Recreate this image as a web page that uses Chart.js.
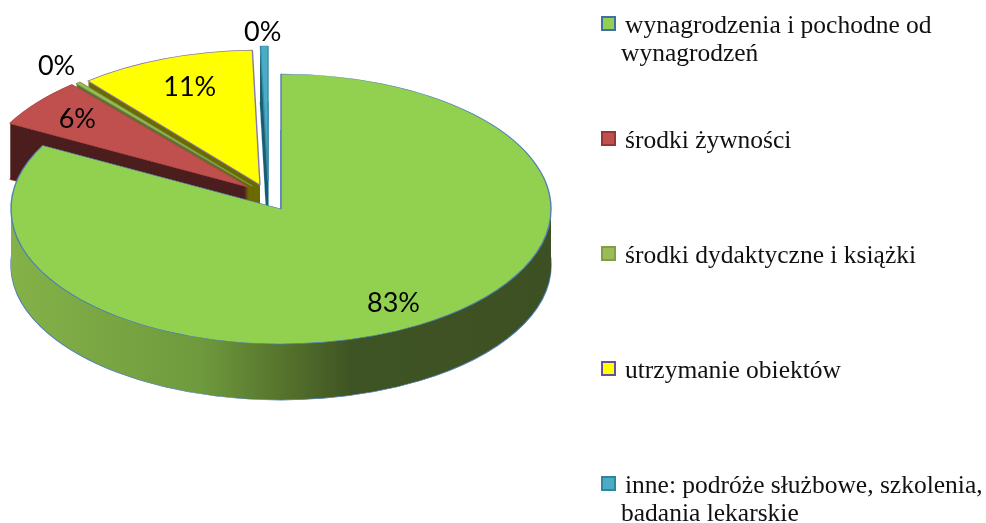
<!DOCTYPE html>
<html lang="pl">
<head>
<meta charset="utf-8">
<title>Struktura wydatków</title>
<script src="https://cdn.jsdelivr.net/npm/chart.js@4"></script>
<style>html,body{margin:0;padding:0;background:#fff}canvas{display:block}</style>
</head>
<body>
<canvas id="c" width="986" height="523"></canvas>
<script>
const categories = ['wynagrodzenia i pochodne od wynagrodzeń','środki żywności','środki dydaktyczne i książki','utrzymanie obiektów','inne: podróże służbowe, szkolenia, badania lekarskie'];
const legendLines = [['wynagrodzenia i pochodne od','wynagrodzeń'],['środki żywności'],['środki dydaktyczne i książki'],['utrzymanie obiektów'],['inne: podróże służbowe, szkolenia,','badania lekarskie']];
const values = [82.8,5.9,0.3,10.55,0.45];
const fillColors = ['#92D050','#C0504D','#9BBB59','#FFFF00','#4BACC6'];
const edgeColors = ['#4F7FB5','#B04A47','#7F9F4A','#8A78B0','#3A8CA6'];
const sideColors = [null,'#4C1E1E','#5C7035','#6B6B00','#1F5F72'];
const markerEdges = ['#3F6EA8','#943634','#7F9F4A','#6B4F96','#31859C'];
const explodeX = [0,-33,-29,-21,-13];
const explodeY = [0,-22,-23,-24,-28];
const labelRadius = [0.81,0.81,1.14,0.76,1.11];
const labelNudgeX = [0,0,3,2,-1];
const labelNudgeY = [0,0,-3,-3,0];
const drawOrder = [4,3,2,1,0];
const squash = 0.5, depth = 56, pieRadius = 270;
const pctFont = '400 27px Lato', legendFont = '25.5px "Liberation Serif"';

function styled(a, bg, bw, bc){
  const o = a.options;
  return {backgroundColor:bg,borderColor:bc||o.borderColor,borderWidth:bw,borderAlign:o.borderAlign,borderJoinStyle:o.borderJoinStyle,borderDash:o.borderDash,borderDashOffset:o.borderDashOffset,borderRadius:o.borderRadius,offset:0,spacing:0,circular:true,selfJoin:o.selfJoin};
}
const pie3d = {
  id:'pie3d',
  beforeDatasetsDraw(chart){
    const ctx = chart.ctx, arcs = chart.getDatasetMeta(0).data;
    const cy = (chart.chartArea.top+chart.chartArea.bottom)/2;
    const place = (i,d) => {
      ctx.translate(explodeX[i],explodeY[i]+d+cy);
      ctx.scale(1,squash);
      ctx.translate(0,-cy);
    };
    const g = ctx.createLinearGradient(11,0,551,0);
    g.addColorStop(0,'#84B248');g.addColorStop(.35,'#6F9A3D');g.addColorStop(.52,'#536F2B');g.addColorStop(.63,'#3F5424');g.addColorStop(1,'#3D5023');
    drawOrder.forEach(i=>{
      const a = arcs[i], saved = a.options, side = sideColors[i]||g;
      for(let d=depth;d>=1;d--){
        ctx.save();place(i,d);
        a.options = styled(a,side,d===depth?1.4:0,edgeColors[i]);
        a.draw(ctx);
        ctx.restore();
      }
      ctx.save();place(i,0);
      a.options = styled(a,fillColors[i],1.4,edgeColors[i]);
      a.draw(ctx);
      ctx.restore();
      a.options = saved;
    });
    return false;
  },
  afterDraw(chart){
    const ctx = chart.ctx, arcs = chart.getDatasetMeta(0).data;
    const total = values.reduce((s,v)=>s+v,0);
    ctx.save();
    ctx.fillStyle='#000';ctx.font=pctFont;ctx.textAlign='center';ctx.textBaseline='middle';
    arcs.forEach((a,i)=>{
      const p=a.getProps(['x','y','startAngle','endAngle','outerRadius'],true);
      const m=(p.startAngle+p.endAngle)/2, r=p.outerRadius*labelRadius[i];
      ctx.fillText(Math.round(values[i]/total*100)+'%',p.x+explodeX[i]+Math.cos(m)*r+labelNudgeX[i],p.y+explodeY[i]+Math.sin(m)*r*squash+1+labelNudgeY[i]);
    });
    ctx.restore();
    ctx.save();
    ctx.font=legendFont;ctx.textAlign='left';ctx.textBaseline='alphabetic';
    legendLines.forEach((lines,i)=>{
      const top=17+i*115;
      ctx.fillStyle=fillColors[i];ctx.fillRect(602,top,13,13);
      ctx.strokeStyle=markerEdges[i];ctx.lineWidth=2;ctx.strokeRect(602,top,13,13);
      ctx.fillStyle='#111';
      lines.forEach((t,j)=>ctx.fillText(t,j===0?625:621,top+16+j*28));
    });
    ctx.restore();
  }
};
new Chart(document.getElementById('c'),{
  type:'pie',
  data:{labels:categories,datasets:[{data:values,backgroundColor:fillColors,borderColor:edgeColors,borderWidth:1}]},
  options:{
    responsive:false,animation:false,radius:pieRadius,
    layout:{padding:{left:0,right:424,top:0,bottom:105}},
    plugins:{legend:{display:false},tooltip:{enabled:false}}
  },
  plugins:[pie3d]
});
</script>
</body>
</html>
